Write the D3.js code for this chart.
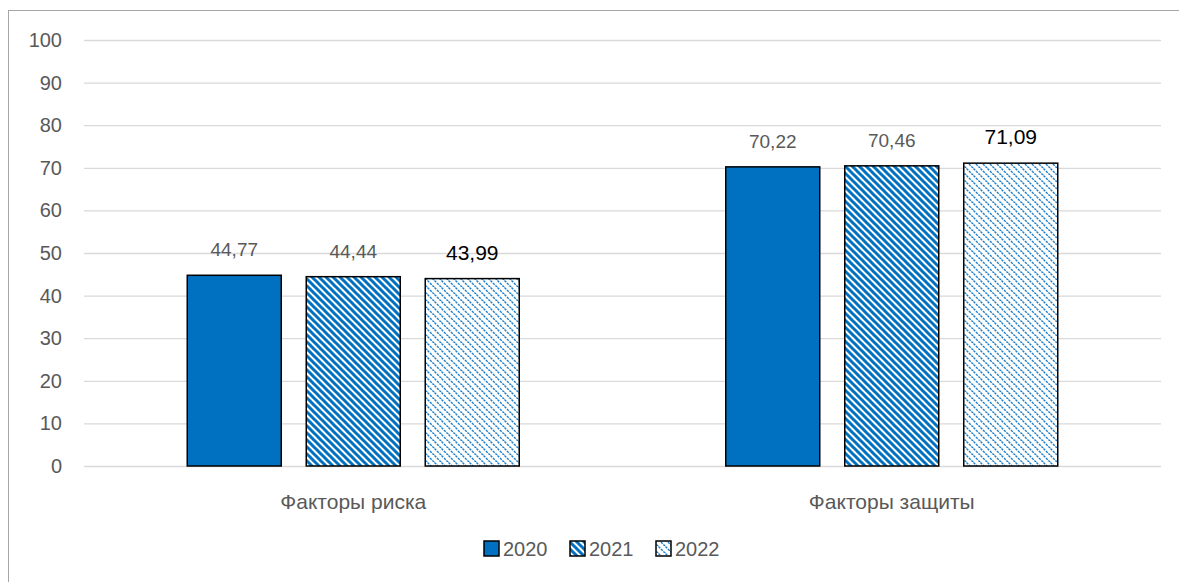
<!DOCTYPE html>
<html><head><meta charset="utf-8">
<script src="https://cdn.jsdelivr.net/npm/d3@7"></script>
<style>body{margin:0;background:#fff;overflow:hidden}</style>
</head><body>
<svg id="c" width="1179" height="582"></svg>
<script>
const categories = ["Факторы риска", "Факторы защиты"];
const seriesNames = ["2020", "2021", "2022"];
const values2020 = [44.77, 70.22];
const values2021 = [44.44, 70.46];
const values2022 = [43.99, 71.09];
const yTicks = [0,10,20,30,40,50,60,70,80,90,100];

const series = [values2020, values2021, values2022];
const svg = d3.select("#c");
const font = "Liberation Sans, Arial, sans-serif";
const blue = "#0070C0";

const defs = svg.append("defs");
const T = 7;
const diag = `M-2,-2 L${T+2},${T+2} M-${T+2},-2 L2,${T+2} M${T-2},-2 L${2*T+2},${T+2}`;
const p1 = defs.append("pattern").attr("id","p2021").attr("patternUnits","userSpaceOnUse")
  .attr("width",T).attr("height",T);
p1.append("rect").attr("width",T).attr("height",T).attr("fill","#fff");
p1.append("path").attr("d",diag).attr("stroke",blue).attr("stroke-width",3);
const p2 = defs.append("pattern").attr("id","p2022").attr("patternUnits","userSpaceOnUse")
  .attr("width",T).attr("height",T);
p2.append("rect").attr("width",T).attr("height",T).attr("fill","#fff");
p2.append("path").attr("d",diag).attr("stroke","#1f7fc8").attr("stroke-width",1.4)
  .attr("stroke-dasharray","2.5,1");
const fills = [blue, "url(#p2021)", "url(#p2022)"];

// outer border
svg.append("rect").attr("x",8.5).attr("y",10.5).attr("width",1300).attr("height",700)
  .attr("fill","none").attr("stroke","#A6A6A6").attr("stroke-width",1);

const x0 = d3.scaleBand().domain(categories).range([84,1161]);
const x1 = d3.scaleBand().domain(seriesNames).range([-166,166]).paddingInner(0.21);
const y = d3.scaleLinear().domain([0,100]).range([466,40]);

// grid
svg.append("g").selectAll("line").data(yTicks).join("line")
  .attr("x1",84).attr("x2",1161).attr("y1",d=>y(d)+0.5).attr("y2",d=>y(d)+0.5)
  .attr("stroke","#D9D9D9").attr("stroke-width",1.3);

// y axis labels
const yAxis = d3.axisLeft(y).tickValues(yTicks).tickSize(0).tickPadding(0);
const ga = svg.append("g").attr("transform","translate(62,0)").call(yAxis);
ga.select(".domain").remove();
ga.selectAll("text").attr("font-family",font).attr("font-size",20).attr("fill","#595959");

// bars
seriesNames.forEach((s,si)=>{
  const g = svg.append("g");
  categories.forEach((c,ci)=>{
    const v = series[si][ci];
    const cx = x0(c) + x0.bandwidth()/2;
    g.append("rect").attr("x",cx + x1(s)).attr("width",x1.bandwidth())
      .attr("y",y(v)).attr("height",y(0)-y(v))
      .attr("fill",fills[si]).attr("stroke","#000").attr("stroke-width",1.5);
    const big = si===2;
    g.append("text").attr("x",cx + x1(s) + x1.bandwidth()/2).attr("y",y(v)-(big?19:19))
      .attr("text-anchor","middle").attr("font-family",font)
      .attr("font-size",big?21:19).attr("fill",big?"#000":"#595959")
      .text(d3.format(".2f")(v).replace(".",","));
  });
});

// category labels
svg.append("g").selectAll("text").data(categories).join("text")
  .attr("x",d=>x0(d)+x0.bandwidth()/2).attr("y",509)
  .attr("text-anchor","middle").attr("font-family",font).attr("font-size",21).attr("fill","#595959")
  .text(d=>d);

// legend
const legX = [484, 570, 656];
const lg = svg.append("g");
seriesNames.forEach((s,i)=>{
  lg.append("rect").attr("x",legX[i]).attr("y",541).attr("width",15).attr("height",15)
    .attr("fill",fills[i]).attr("stroke","#000").attr("stroke-width",1.5);
  lg.append("text").attr("x",legX[i]+19).attr("y",556).attr("font-family",font)
    .attr("font-size",20).attr("fill","#595959").text(s);
});
</script>
</body></html>
